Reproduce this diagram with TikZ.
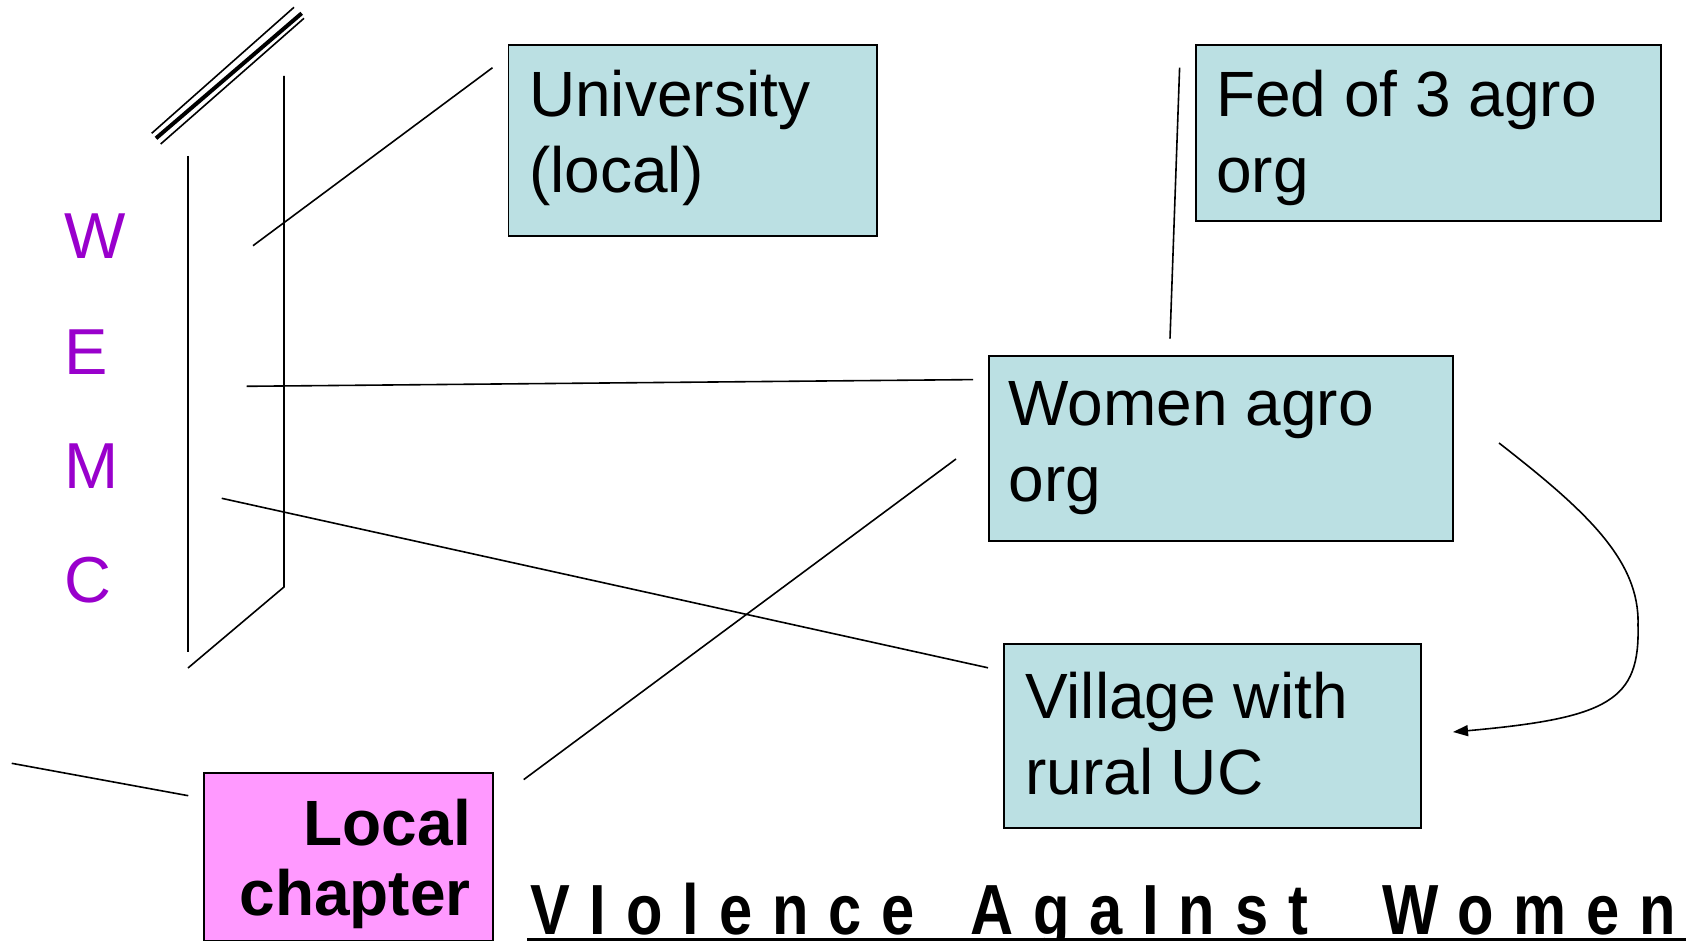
\documentclass[tikz,border=0pt]{standalone}
\usepackage{fontspec}
\setmainfont{Liberation Sans}
\newfontfamily\vawfont[FakeStretch=0.84,LetterSpace=28]{Liberation Sans}
\usetikzlibrary{arrows.meta}
\definecolor{boxteal}{HTML}{BBE0E3}
\definecolor{boxpink}{HTML}{FF99FF}
\definecolor{wemcpurple}{HTML}{9900CC}
\tikzset{
  orgbox/.style={draw=black, line width=1.8pt, fill=boxteal, anchor=north west, inner sep=0pt},
  chapbox/.style={orgbox, fill=boxpink},
  boxtext/.style={anchor=north west, inner sep=0pt, align=left, font=\fontsize{64}{76}\selectfont},
  chaptext/.style={anchor=north east, inner sep=0pt, align=right, font=\fontsize{64}{70}\selectfont\bfseries},
  wemc/.style={anchor=base west, inner sep=0pt, text=wemcpurple, font=\fontsize{65}{65}\selectfont},
  link/.style={line width=1.6pt},
  vaw/.style={anchor=base west, inner sep=0pt, font=\vawfont\bfseries\fontsize{71}{71}\selectfont},
}
\begin{document}
\begin{tikzpicture}[x=1pt,y=-1pt]
\useasboundingbox (0,0) rectangle (1686,941);

% boxes
\node[orgbox, minimum width=368.5pt, minimum height=191pt] (uni) at (507.5,44) {};
\node[orgbox, minimum width=465pt, minimum height=176pt] (fed) at (1195,44) {};
\node[orgbox, minimum width=463.4pt, minimum height=185pt] (women) at (988.3,355) {};
\node[orgbox, minimum width=416.7pt, minimum height=183.4pt] (village) at (1003.3,643.3) {};
\node[chapbox, minimum width=288.4pt, minimum height=168.3pt] (local) at (203.3,771.7) {};

% box texts
\node[boxtext] (unitxt) at (529,70) {University\\(local)};
\node[boxtext] (fedtxt) at (1216,70) {Fed of 3 agro\\org};
\node[boxtext] (womentxt) at (1008.5,381.7) {Women agro\\org};
\node[boxtext] (villagetxt) at (1025,671.7) {Village with\\rural UC};
\node[chaptext] (localtxt) at (471,799) {Local\\chapter};

% WEMC letters
\node[wemc] (lw) at (64,259) {W};
\node[wemc] (le) at (64,374) {E};
\node[wemc] (lm) at (64,488) {M};
\node[wemc] (lc) at (64,602) {C};

% plane
\coordinate (pl1) at (188,156);
\coordinate (pl2) at (188,652);
\coordinate (pr1) at (284,76);
\coordinate (pr2) at (284,587);
\coordinate (pb) at (188,668);
\draw[link] (pl1) -- (pl2);
\draw[link] (pr1) -- (pr2) -- (pb);

% triple stroke at the top
\coordinate (da1) at (151.7,133.3); \coordinate (da2) at (294,7.3);
\coordinate (db1) at (156,138.3);   \coordinate (db2) at (301.7,13.3);
\coordinate (dc1) at (160.7,144);   \coordinate (dc2) at (304,18.3);
\draw[link] (da1) -- (da2);
\draw[line width=4pt] (db1) -- (db2);
\draw[link] (dc1) -- (dc2);

% connectors
\coordinate (c1a) at (253,245.7);   \coordinate (c1b) at (492.5,67.7);
\coordinate (c2a) at (246.7,386.3); \coordinate (c2b) at (973,379.6);
\coordinate (c3a) at (221.7,498.3); \coordinate (c3b) at (988,667.8);
\coordinate (c4a) at (523.7,779.6); \coordinate (c4b) at (956,459);
\coordinate (c5a) at (1179.6,67.7); \coordinate (c5b) at (1170,338.7);
\coordinate (c6a) at (11.7,763.3);  \coordinate (c6b) at (188.3,795.7);
\draw[link] (c1a) -- (c1b);
\draw[link] (c2a) -- (c2b);
\draw[link] (c3a) -- (c3b);
\draw[link] (c4a) -- (c4b);
\draw[link] (c5a) -- (c5b);
\draw[link] (c6a) -- (c6b);

% curved arrow
\coordinate (arrS) at (1499,443);
\coordinate (arrE) at (1453,732);
\draw[link, -{Triangle[length=15pt,width=11pt]}] (arrS) .. controls (1585,510) and (1640,560) .. (1638,625) .. controls (1640,700) and (1610,718) .. (arrE);

% bottom title
\node[vaw] (vaw1) at (530,934) {VIolence};
\node[vaw] (vaw2) at (970,934) {AgaInst};
\node[vaw] (vaw3) at (1382,934) {Women};
\coordinate (ulS) at (527,939.5);
\coordinate (ulE) at (1686,939.5);
\draw[line width=2.5pt] (ulS) -- (ulE);
\end{tikzpicture}
\end{document}
